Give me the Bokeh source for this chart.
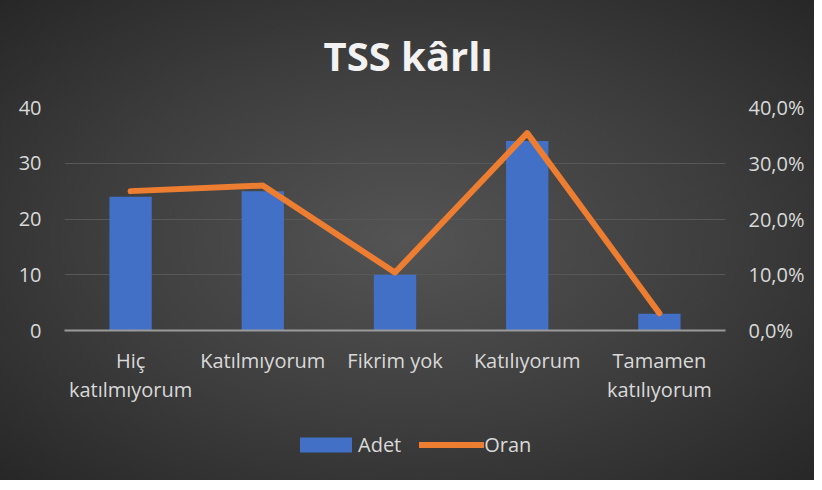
from bokeh.plotting import figure
from bokeh.layouts import column
from bokeh.models import (ColumnDataSource, Range1d, LinearAxis, FixedTicker,
                          CustomJSTickFormatter, Legend, LegendItem, Spacer)
from bokeh.embed import file_html
from bokeh.resources import INLINE

# ---- data ----
categories = ["Hiç katılmıyorum", "Katılmıyorum", "Fikrim yok", "Katılıyorum", "Tamamen katılıyorum"]
tick_labels = ["Hiç\nkatılmıyorum", "Katılmıyorum", "Fikrim yok", "Katılıyorum", "Tamamen\nkatılıyorum"]
adet = [24, 25, 10, 34, 3]
oran = [25.0, 26.0, 10.4, 35.4, 3.1]   # percent
left_ticks = [0, 10, 20, 30, 40]
right_ticks = [0, 10, 20, 30, 40]
title_text = "TSS kârlı"
series_names = ["Adet", "Oran"]

FONT = "Open Sans"
TXT = "#d9d9d9"
BAR = "#4270c6"
ORANGE = "#ED7D31"
W = 814

pos = list(range(len(categories)))
src = ColumnDataSource(dict(x=pos, cat=categories, adet=adet, oran=oran))

p = figure(x_range=Range1d(-0.5, len(categories) - 0.5), y_range=Range1d(0, 40),
           width=W, height=425,
           output_backend="svg", toolbar_location=None,
           min_border_left=64, min_border_right=89, min_border_top=106, min_border_bottom=95)
p.extra_y_ranges = {"pct": Range1d(0, 40)}

p.background_fill_color = None
p.border_fill_color = None
p.outline_line_color = None

# title
p.title.text = title_text
p.title.align = "left"
p.title.offset = 259
p.title.text_font = FONT
p.title.text_font_size = "40px"
p.title.text_font_style = "bold"
p.title.text_color = "#f2f2f2"
p.title.standoff = 50

bars = p.vbar(x="x", top="adet", width=0.32, source=src,
              fill_color=BAR, line_color=None)
line = p.line(x="x", y="oran", source=src, y_range_name="pct",
              line_color=ORANGE, line_width=6, line_cap="round", line_join="round")

# axes
xa = p.xaxis[0]
xa.ticker = FixedTicker(ticks=pos)
xa.major_label_overrides = {i: t for i, t in zip(pos, tick_labels)}
xa.axis_line_color = "#9a9a9a"
xa.axis_line_width = 2
xa.major_tick_line_color = None
xa.minor_tick_line_color = None
xa.major_label_text_font = FONT
xa.major_label_text_font_size = "20px"
xa.major_label_text_color = TXT
xa.major_label_text_line_height = 1.1
xa.major_label_standoff = 10

ya = p.yaxis[0]
ya.ticker = FixedTicker(ticks=left_ticks)
ya.axis_line_color = None
ya.major_tick_line_color = None
ya.minor_tick_line_color = None
ya.major_label_text_font = FONT
ya.major_label_text_font_size = "20px"
ya.major_label_text_color = TXT
ya.major_label_standoff = 17

ra = LinearAxis(y_range_name="pct", ticker=FixedTicker(ticks=right_ticks),
                formatter=CustomJSTickFormatter(code="return tick.toFixed(1).replace('.', ',') + '%';"))
ra.axis_line_color = None
ra.major_tick_line_color = None
ra.minor_tick_line_color = None
ra.major_label_text_font = FONT
ra.major_label_text_font_size = "20px"
ra.major_label_text_color = TXT
ra.major_label_standoff = 17
p.add_layout(ra, "right")

p.xgrid.grid_line_color = None
p.ygrid.grid_line_color = "#585858"
p.ygrid.grid_line_width = 1
p.ygrid.ticker = FixedTicker(ticks=left_ticks)

# legend strip: a small figure holding the same series (drawn outside its
# visible range) so the legend swatches get the same styles
lf = figure(width=W, height=38, output_backend="svg", toolbar_location=None,
            min_border=0, x_range=Range1d(1000, 1001), y_range=Range1d(1000, 1001))
lf.background_fill_color = None
lf.border_fill_color = None
lf.outline_line_color = None
lf.axis.visible = False
lf.grid.visible = False
lb = lf.vbar(x="x", top="adet", width=0.32, source=src, fill_color=BAR, line_color=None)
ll = lf.line(x="x", y="oran", source=src, line_color=ORANGE, line_width=6, line_cap="round")

legend = Legend(items=[LegendItem(label=series_names[0], renderers=[lb]),
                       LegendItem(label=series_names[1], renderers=[ll])],
                orientation="horizontal", location=(229, 5))
legend.background_fill_alpha = 0
legend.border_line_color = None
legend.label_text_font = FONT
legend.label_text_font_size = "20px"
legend.label_text_color = TXT
legend.glyph_width = 65
legend.glyph_height = 19
legend.label_standoff = 0
legend.spacing = 18
legend.padding = 2
legend.margin = 0
lf.add_layout(legend)

layout = column(p, lf, Spacer(width=W, height=17), spacing=0)
layout.styles = {"background": "radial-gradient(ellipse at 50% 50%, #545454 0%, #3d3d3d 55%, #272727 100%)"}

open("out.html", "w").write(file_html(layout, INLINE))
